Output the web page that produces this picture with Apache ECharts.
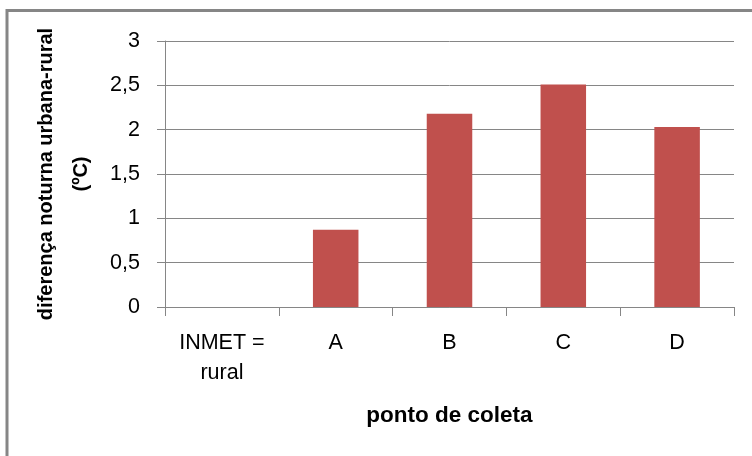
<!DOCTYPE html>
<html><head><meta charset="utf-8">
<script src="https://cdn.jsdelivr.net/npm/echarts@6/dist/echarts.min.js"></script>
<style>html,body{margin:0;padding:0;background:#fff}#c{width:752px;height:456px}</style>
</head><body><div id="c"></div>
<script>
const categories = ['INMET =\nrural', 'A', 'B', 'C', 'D'];
const values = [0, 0.87, 2.18, 2.51, 2.03];
const yTicks = [0, 0.5, 1, 1.5, 2, 2.5, 3];
const yTitle = 'diferença noturna urbana-rural\n(ºC)';
const xTitle = 'ponto de coleta';

const font = '"Liberation Sans", Arial, sans-serif';
const chart = echarts.init(document.getElementById('c'), null, {renderer: 'canvas'});
chart.setOption({
  animation: false,
  backgroundColor: '#fff',
  graphic: [{
    type: 'rect', shape: {x: 7, y: 10.5, width: 800, height: 500},
    style: {fill: 'none', stroke: '#868686', lineWidth: 3}, silent: true
  }],
  grid: {left: 165, right: 18, top: 41, bottom: 149},
  xAxis: {
    type: 'category', data: categories,
    name: xTitle, nameLocation: 'middle', nameGap: 97,
    nameTextStyle: {fontFamily: font, fontSize: 22.5, fontWeight: 'bold', color: '#000'},
    axisLine: {lineStyle: {color: '#868686', width: 1}},
    axisTick: {show: true, length: 9, lineStyle: {color: '#868686'}},
    axisLabel: {fontFamily: font, fontSize: 21.5, color: '#000', margin: 21, lineHeight: 30, interval: 0}
  },
  yAxis: {
    type: 'value', min: 0, max: 3, interval: 0.5,
    name: yTitle, nameLocation: 'middle', nameGap: 55, nameRotate: 90,
    nameTextStyle: {fontFamily: font, fontSize: 20, fontWeight: 'bold', color: '#000', lineHeight: 35},
    axisLine: {show: true, lineStyle: {color: '#868686', width: 1}},
    axisTick: {show: true, length: 8, lineStyle: {color: '#868686'}},
    splitLine: {lineStyle: {color: '#868686', width: 1}},
    axisLabel: {fontFamily: font, fontSize: 21.5, color: '#000', margin: 25,
      formatter: v => yTicks.includes(v) ? String(v).replace('.', ',') : ''}
  },
  series: [{
    type: 'bar', data: values, barWidth: '40%',
    itemStyle: {color: '#C0504D'}
  }]
});
</script></body></html>
